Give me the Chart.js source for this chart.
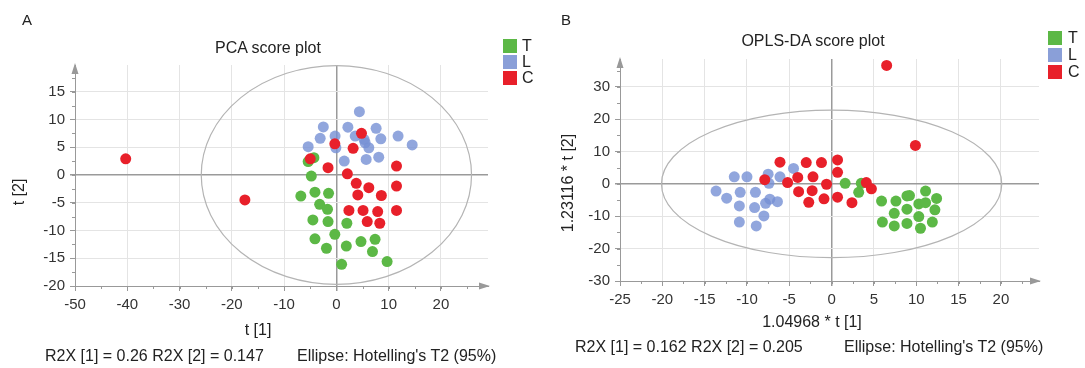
<!DOCTYPE html>
<html>
<head>
<meta charset="utf-8">
<script src="https://cdn.jsdelivr.net/npm/chart.js@4.4.0/dist/chart.umd.min.js"></script>
<style>
  body { margin: 0; background: #fff; font-family: "Liberation Sans", Arial, sans-serif; color: #222; }
  #wrap { position: relative; width: 1085px; height: 368px; overflow: hidden; }
  canvas { position: absolute; top: 0; }
  .t { position: absolute; font-size: 16px; white-space: nowrap; transform: translate(-50%, -50%); }
  .l { position: absolute; font-size: 16px; white-space: nowrap; transform: translateY(-50%); }
  .rot { transform: translate(-50%, -50%) rotate(-90deg); }
  .sq { position: absolute; width: 14px; height: 14px; }
  .lg { position: absolute; font-size: 16px; transform: translateY(-50%); }
</style>
</head>
<body>
<div id="wrap">
  <canvas id="pca" width="540" height="368" style="left:0"></canvas>
  <canvas id="opls" width="545" height="368" style="left:540px"></canvas>

  <div class="t" style="left:27px;top:19px;font-size:15px">A</div>
  <div class="t" style="left:268px;top:48px">PCA score plot</div>
  <div class="t" style="left:258px;top:330px">t [1]</div>
  <div class="t rot" style="left:19px;top:192px">t [2]</div>
  <div class="l" style="left:45px;top:356px">R2X [1] = 0.26 R2X [2] = 0.147</div>
  <div class="l" style="left:297px;top:356px">Ellipse: Hotelling's T2 (95%)</div>
  <div class="sq" style="left:503px;top:39px;background:#5cb846"></div>
  <div class="sq" style="left:503px;top:55px;background:#8a9fd8"></div>
  <div class="sq" style="left:503px;top:71px;background:#e8202a"></div>
  <div class="lg" style="left:522px;top:46px">T</div>
  <div class="lg" style="left:522px;top:62px">L</div>
  <div class="lg" style="left:522px;top:78px">C</div>

  <div class="t" style="left:566px;top:19px;font-size:15px">B</div>
  <div class="t" style="left:813px;top:41px">OPLS-DA score plot</div>
  <div class="t" style="left:812px;top:322px">1.04968 * t [1]</div>
  <div class="t rot" style="left:568px;top:183px">1.23116 * t [2]</div>
  <div class="l" style="left:575px;top:347px">R2X [1] = 0.162 R2X [2] = 0.205</div>
  <div class="l" style="left:844px;top:347px">Ellipse: Hotelling's T2 (95%)</div>
  <div class="sq" style="left:1048px;top:31px;background:#5cb846"></div>
  <div class="sq" style="left:1048px;top:48px;background:#8a9fd8"></div>
  <div class="sq" style="left:1048px;top:65px;background:#e8202a"></div>
  <div class="lg" style="left:1068px;top:38px">T</div>
  <div class="lg" style="left:1068px;top:55px">L</div>
  <div class="lg" style="left:1068px;top:72px">C</div>
</div>

<script>
// PCA score plot, [t1, t2]
const pcaT = [[-5.4,2.4],[-4.3,3.1],[-4.8,-0.2],[-6.8,-3.8],[-4.1,-3.1],[-1.5,-3.3],[-3.2,-5.3],[-1.7,-6.2],[-4.5,-8.1],[-1.6,-8.4],
              [2.0,-8.7],[-0.3,-10.7],[-4.1,-11.5],[-1.9,-13.2],[1.9,-12.8],[4.7,-12.0],[7.4,-11.6],[6.9,-13.8],[1.0,-16.1],[9.7,-15.6]];
const pcaL = [[4.4,11.4],[-2.5,8.65],[2.2,8.6],[7.6,8.4],[-3.1,6.6],[-0.25,7.0],[3.6,7.0],[5.3,6.4],[5.5,5.8],[8.5,6.5],
              [11.8,7.0],[14.5,5.4],[-5.4,5.1],[-0.1,4.9],[6.2,4.9],[1.5,2.5],[5.7,2.8],[8.1,3.2]];
const pcaC = [[-40.3,2.9],[-17.5,-4.5],[4.8,7.5],[-0.3,5.6],[3.2,4.8],[-5.0,2.9],[-1.6,1.3],[2.1,0.2],[11.5,1.6],[3.8,-1.5],
              [6.2,-2.3],[11.5,-2.0],[4.1,-3.6],[8.6,-3.7],[2.4,-6.4],[5.1,-6.4],[7.9,-6.6],[11.5,-6.4],[5.9,-8.4],[8.3,-8.7]];
const pcaEllipse = [25.85, 19.7];

// OPLS-DA score plot
const oplsT = [[1.6,0.2],[3.5,0.2],[3.2,-2.6],[5.9,-5.3],[7.6,-5.3],[8.9,-3.7],[9.2,-3.6],[11.1,-2.2],[12.4,-4.5],[10.3,-6.2],
               [11.1,-5.8],[8.9,-7.8],[7.4,-9.1],[12.2,-8.0],[10.3,-10.1],[6.0,-11.8],[7.4,-13.0],[8.9,-12.2],[11.9,-11.8],[10.5,-13.7]];
const oplsL = [[-13.65,-2.2],[-12.4,-4.4],[-11.5,2.2],[-10.0,2.2],[-10.8,-2.6],[-10.9,-6.8],[-10.9,-11.8],[-9.0,-2.6],[-9.1,-7.3],
               [-8.9,-13.0],[-8.0,-9.9],[-7.8,-6.0],[-7.3,-4.7],[-6.4,-5.5],[-7.5,3.0],[-7.4,0.2],[-6.1,2.2],[-4.5,4.8]];
const oplsC = [[6.5,36.6],[9.9,11.9],[-7.9,1.3],[-6.1,6.7],[-3.0,6.6],[-1.2,6.6],[0.7,7.4],[-5.2,0.4],[-4.0,2.0],[-2.2,2.2],
               [-0.6,-0.1],[0.7,3.6],[-3.9,-2.4],[-2.3,-2.1],[-2.7,-5.7],[-0.9,-4.6],[0.7,-4.1],[2.4,-5.8],[4.1,0.4],[4.7,-1.5]];
const oplsEllipse = [20.1, 22.8];

const green = '#5cb846', blue = 'rgba(118,144,212,0.8)', red = '#e8202a';

Chart.defaults.font.family = '"Liberation Sans", Arial, sans-serif';
Chart.defaults.font.size = 15;
Chart.defaults.color = '#333';

// ellipse, minor ticks and axis arrows
const extras = {
  id: 'extras',
  beforeDatasetsDraw(chart, args, opts) {
    const {ctx, scales: {x, y}} = chart;
    const cx = x.getPixelForValue(0), cy = y.getPixelForValue(0);
    ctx.save();
    ctx.beginPath();
    ctx.ellipse(cx, cy, x.getPixelForValue(opts.ellipse[0]) - cx, cy - y.getPixelForValue(opts.ellipse[1]), 0, 0, Math.PI * 2);
    ctx.strokeStyle = '#b4b4b4';
    ctx.lineWidth = 1.2;
    ctx.stroke();
    ctx.restore();
  },
  afterDraw(chart, args, opts) {
    const {ctx, chartArea: a, scales: {x, y}} = chart;
    ctx.save();
    ctx.strokeStyle = '#999';
    ctx.lineWidth = 1;
    ctx.beginPath();
    for (let v = Math.ceil(x.min / opts.minorX) * opts.minorX; v <= x.max; v += opts.minorX) {
      const px = Math.round(x.getPixelForValue(v)) + 0.5;
      ctx.moveTo(px, a.bottom); ctx.lineTo(px, a.bottom + 3);
    }
    for (let v = Math.ceil(y.min / opts.minorY) * opts.minorY; v <= y.max; v += opts.minorY) {
      const py = Math.round(y.getPixelForValue(v)) + 0.5;
      ctx.moveTo(a.left, py); ctx.lineTo(a.left - 3, py);
    }
    ctx.stroke();
    ctx.fillStyle = '#999';
    ctx.beginPath();
    ctx.moveTo(a.left, a.top - 2); ctx.lineTo(a.left - 3.5, a.top + 9); ctx.lineTo(a.left + 3.5, a.top + 9);
    ctx.closePath();
    ctx.moveTo(a.right + 2, a.bottom); ctx.lineTo(a.right - 9, a.bottom - 3.5); ctx.lineTo(a.right - 9, a.bottom + 3.5);
    ctx.closePath();
    ctx.fill();
    ctx.restore();
  }
};

function pts(arr) {
  return arr.map(p => ({x: p[0], y: p[1]}));
}

function grid() {
  return {
    color: c => (c.tick && c.tick.value === 0) ? '#9a9a9a' : '#e4e4e4',
    lineWidth: c => (c.tick && c.tick.value === 0) ? 1.5 : 1,
    tickLength: 5,
    tickColor: '#999'
  };
}

function makeChart(id, T, L, C, xr, yr, area, ell, minor) {
  const ds = (label, data, col, order) => ({
    label, data: pts(data), backgroundColor: col, borderColor: col, borderWidth: 0,
    pointRadius: 5.5, pointHoverRadius: 5.5, order
  });
  return new Chart(document.getElementById(id), {
    type: 'scatter',
    data: { datasets: [ds('T', T, green, 2), ds('L', L, blue, 1), ds('C', C, red, 0)] },
    plugins: [extras],
    options: {
      responsive: false,
      animation: false,
      layout: { padding: { left: 0, top: area.top, right: area.right, bottom: 0 } },
      plugins: { legend: { display: false }, tooltip: { enabled: false }, extras: { ellipse: ell, minorX: minor[0], minorY: minor[1] } },
      scales: {
        x: {
          type: 'linear', min: xr[0], max: xr[1],
          ticks: { stepSize: xr[2], includeBounds: false, padding: 5, maxRotation: 0 },
          grid: grid(),
          border: { color: '#999', width: 1 },
          afterFit: s => { s.height = area.bottom; }
        },
        y: {
          type: 'linear', min: yr[0], max: yr[1],
          ticks: { stepSize: yr[2], includeBounds: false, padding: 5 },
          grid: grid(),
          border: { color: '#999', width: 1 },
          afterFit: s => { s.width = area.left; }
        }
      }
    }
  });
}

makeChart('pca', pcaT, pcaL, pcaC, [-50, 29, 10], [-20, 19.8, 5],
  { left: 75, top: 65, right: 52, bottom: 82 }, pcaEllipse, [5, 2.5]);
makeChart('opls', oplsT, oplsL, oplsC, [-25, 24.5, 5], [-30, 38.6, 10],
  { left: 80, top: 59, right: 46, bottom: 87 }, oplsEllipse, [2.5, 5]);
</script>
</body>
</html>
